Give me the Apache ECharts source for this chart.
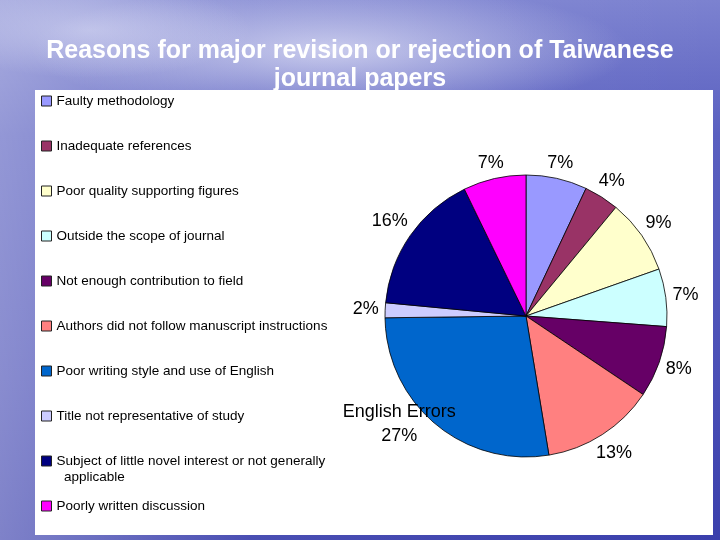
<!DOCTYPE html>
<html>
<head>
<meta charset="utf-8">
<script src="https://cdn.jsdelivr.net/npm/echarts@6/dist/echarts.min.js"></script>
<style>
html,body{margin:0;padding:0;background:#4a50b8;}
#chart{width:720px;height:540px;}
</style>
</head>
<body>
<div id="chart"></div>
<script>
// ---- data ----
const categories = [
  'Faulty methodology',
  'Inadequate references',
  'Poor quality supporting figures',
  'Outside the scope of journal',
  'Not enough contribution to field',
  'Authors did not follow manuscript instructions',
  'Poor writing style and use of English',
  'Title not representative of study',
  'Subject of little novel interest or not generally applicable',
  'Poorly written discussion'
];
const values = [7, 4, 8.6, 6.6, 8.2, 13, 27.4, 1.7, 16.3, 7.2];
const legendTexts = [
  'Faulty methodology',
  'Inadequate references',
  'Poor quality supporting figures',
  'Outside the scope of journal',
  'Not enough contribution to field',
  'Authors did not follow manuscript instructions',
  'Poor writing style and use of English',
  'Title not representative of study',
  'Subject of little novel interest or not generally\n  applicable',
  'Poorly written discussion'
];
const labelPrefixes = ['', '', '', '', '', '', 'English Errors', '', '', ''];
const colors = ['#9999FF', '#993366', '#FFFFCC', '#CCFFFF', '#660066',
                '#FF8080', '#0066CC', '#CCCCFF', '#000080', '#FF00FF'];
const titleText = 'Reasons for major revision or rejection of Taiwanese\njournal papers';

// ---- chart ----
const chart = echarts.init(document.getElementById('chart'), null, {renderer: 'canvas'});

const seriesData = categories.map((n, i) => ({
  name: n,
  value: values[i],
  itemStyle: {color: colors[i]}
}));

const isMulti = (i) => legendTexts[i].indexOf('\n') >= 0;
const legendData = categories.map((n, i) => ({
  name: n,
  textStyle: {padding: isMulti(i) ? [0, 0, 0, 0] : [16, 0, 16, 0]}
}));

const option = {
  animation: false,
  color: colors,
  graphic: [
    {type: 'rect', z: -20, silent: true, shape: {x: 0, y: 0, width: 720, height: 540},
     style: {fill: new echarts.graphic.LinearGradient(0, 0, 0, 1, [
       {offset: 0, color: '#7c82d0'}, {offset: 0.25, color: '#5a60c0'},
       {offset: 0.7, color: '#4a4fb6'}, {offset: 1, color: '#3a3fac'}])}},
    {type: 'rect', z: -19, silent: true, shape: {x: 0, y: 0, width: 720, height: 540},
     style: {fill: new echarts.graphic.LinearGradient(0, 0, 1, 0, [
       {offset: 0, color: 'rgba(255,255,255,0.35)'}, {offset: 0.35, color: 'rgba(255,255,255,0.08)'},
       {offset: 1, color: 'rgba(255,255,255,0)'}])}},
    {type: 'circle', z: -18, silent: true, x: 330, y: 50, scaleY: 0.22,
     shape: {cx: 0, cy: 0, r: 300},
     style: {fill: new echarts.graphic.RadialGradient(0.5, 0.5, 0.5, [
       {offset: 0, color: 'rgba(235,236,250,0.7)'}, {offset: 1, color: 'rgba(235,236,250,0)'}])}},
    {type: 'circle', z: -18, silent: true, x: 90, y: 30, scaleY: 0.3,
     shape: {cx: 0, cy: 0, r: 160},
     style: {fill: new echarts.graphic.RadialGradient(0.5, 0.5, 0.5, [
       {offset: 0, color: 'rgba(220,222,245,0.55)'}, {offset: 1, color: 'rgba(220,222,245,0)'}])}},
    {type: 'rect', z: -5, silent: true, shape: {x: 35, y: 90, width: 678, height: 445},
     style: {fill: '#ffffff'}}
  ],
  title: {
    text: titleText,
    left: 'center',
    top: 37,
    padding: 0,
    textStyle: {
      color: '#ffffff',
      fontFamily: 'Liberation Sans',
      fontWeight: 'bold',
      fontSize: 25,
      lineHeight: 28
    }
  },
  legend: {
    orient: 'vertical',
    left: 41,
    top: 77,
    padding: 0,
    itemGap: -3,
    itemWidth: 10,
    itemHeight: 10,
    icon: 'rect',
    selectedMode: false,
    itemStyle: {borderColor: '#222', borderWidth: 1},
    textStyle: {color: '#000', fontFamily: 'Liberation Sans', fontSize: 13.5, lineHeight: 16},
    formatter: function (name) {
      const i = categories.indexOf(name);
      return (isMulti(i) ? '\n' : '') + legendTexts[i];
    },
    data: legendData
  },
  series: [{
    type: 'pie',
    center: [526, 316],
    radius: 141,
    startAngle: 90,
    clockwise: true,
    avoidLabelOverlap: false,
    itemStyle: {borderColor: '#000', borderWidth: 0.8},
    emphasis: {disabled: true},
    label: {
      show: true,
      position: 'outside',
      color: '#000',
      fontFamily: 'Liberation Sans',
      fontSize: 18,
      lineHeight: 24,
      align: 'center',
      formatter: function (p) {
        const pre = labelPrefixes[p.dataIndex];
        return (pre ? pre + '\n' : '') + Math.round(p.percent) + '%';
      }
    },
    labelLine: {show: true, length: 10, length2: 0, lineStyle: {opacity: 0}},
    labelLayout: function (params) {
      const pts = params.labelLinePoints;
      if (!pts) return {};
      const p1 = pts[0], p2 = pts[1];
      let dx = p2[0] - p1[0], dy = p2[1] - p1[1];
      const len = Math.sqrt(dx * dx + dy * dy) || 1;
      dx /= len; dy /= len;
      const w = params.labelRect.width;
      if (labelPrefixes[params.dataIndex]) {
        return {x: p1[0] + dx * w * 0.5, y: p1[1], align: 'center', verticalAlign: 'middle'};
      }
      const k = 6 + Math.abs(dx) * w / 2 + Math.abs(dy) * 7;
      return {x: p1[0] + dx * k, y: p1[1] + dy * k, align: 'center', verticalAlign: 'middle'};
    },
    data: seriesData
  }]
};
chart.setOption(option);
</script>
</body>
</html>
